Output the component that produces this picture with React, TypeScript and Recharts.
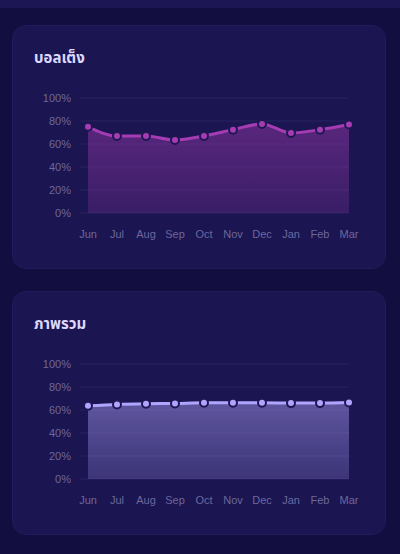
import React from 'react';
import { AreaChart, Area, XAxis, YAxis, CartesianGrid } from 'recharts';

const MONTHS = ['Jun', 'Jul', 'Aug', 'Sep', 'Oct', 'Nov', 'Dec', 'Jan', 'Feb', 'Mar'];
const BALL_VALUES = [75, 67, 67, 63.5, 67, 72.5, 77.5, 69.5, 72.5, 77];
const OVERALL_VALUES = [63.6, 64.8, 65.4, 65.7, 66.3, 66.3, 66.3, 66, 66, 66.6];
const Y_TICKS = [0, 20, 40, 60, 80, 100];

const TICK_FONT = '"Liberation Sans", Arial, sans-serif';
const TITLE_FONT = 'Inter, "Noto Sans", "Noto Sans Thai", "DejaVu Sans", sans-serif';

interface CardProps {
  title: string;
  values: number[];
  id: string;
  line: string;
  top: number;
}

function ChartCard({ title, values, id, line, top }: CardProps) {
  const data = MONTHS.map((m, i) => ({ month: m, value: values[i] }));
  return (
    <div
      style={{
        position: 'absolute',
        left: 12,
        top,
        width: 374,
        height: 244,
        borderRadius: 14,
        background: '#1b1551',
        border: '1px solid #221b5b',
        boxSizing: 'border-box',
      }}
    >
      <div
        style={{
          position: 'absolute',
          left: 21,
          top: 22,
          fontFamily: TITLE_FONT,
          fontWeight: 700,
          fontSize: 15,
          color: '#ddd8ff',
          lineHeight: '20px',
        }}
      >
        {title}
      </div>
      <div style={{ position: 'absolute', left: -1, top: -1 }}>
        <AreaChart
          width={374}
          height={244}
          data={data}
          margin={{ top: 73, right: 37, bottom: 26, left: 0 }}
        >
          <defs>
            <linearGradient id={id} x1="0" y1="0" x2="0" y2="1">
              <stop offset="0%" stopColor={line} stopOpacity={0.45} />
              <stop offset="100%" stopColor={line} stopOpacity={0.22} />
            </linearGradient>
          </defs>
          <CartesianGrid stroke="#2a2362" vertical={false} />
          <XAxis
            dataKey="month"
            axisLine={false}
            tickLine={false}
            padding={{ left: 8, right: 0 }}
            tick={{ fill: '#6c689c', fontSize: 11, fontFamily: TICK_FONT }}
            tickMargin={11}
            interval={0}
            height={30}
          />
          <YAxis
            domain={[0, 100]}
            ticks={Y_TICKS}
            axisLine={false}
            tickLine={false}
            tick={{ fill: '#6c689c', fontSize: 11, fontFamily: TICK_FONT }}
            tickFormatter={(v) => `${v}%`}
            width={68}
            tickMargin={3}
          />
          <Area
            type="monotone"
            dataKey="value"
            stroke={line}
            strokeWidth={3}
            fill={`url(#${id})`}
            fillOpacity={1}
            dot={{ r: 4, fill: line, stroke: '#1e1752', strokeWidth: 2 }}
            activeDot={false}
            isAnimationActive={false}
          />
        </AreaChart>
      </div>
    </div>
  );
}

export default function App() {
  return (
    <div
      style={{
        position: 'absolute',
        left: 0,
        top: 0,
        width: 400,
        height: 554,
        background: '#130e40',
        overflow: 'hidden',
      }}
    >
      <div style={{ position: 'absolute', left: 0, top: 0, width: 400, height: 8, background: '#1c1655' }} />
      <ChartCard title="บอลเต็ง" values={BALL_VALUES} id="gradBall" line="#a53cb3" top={25} />
      <ChartCard title="ภาพรวม" values={OVERALL_VALUES} id="gradOverall" line="#b1a4ff" top={291} />
    </div>
  );
}
